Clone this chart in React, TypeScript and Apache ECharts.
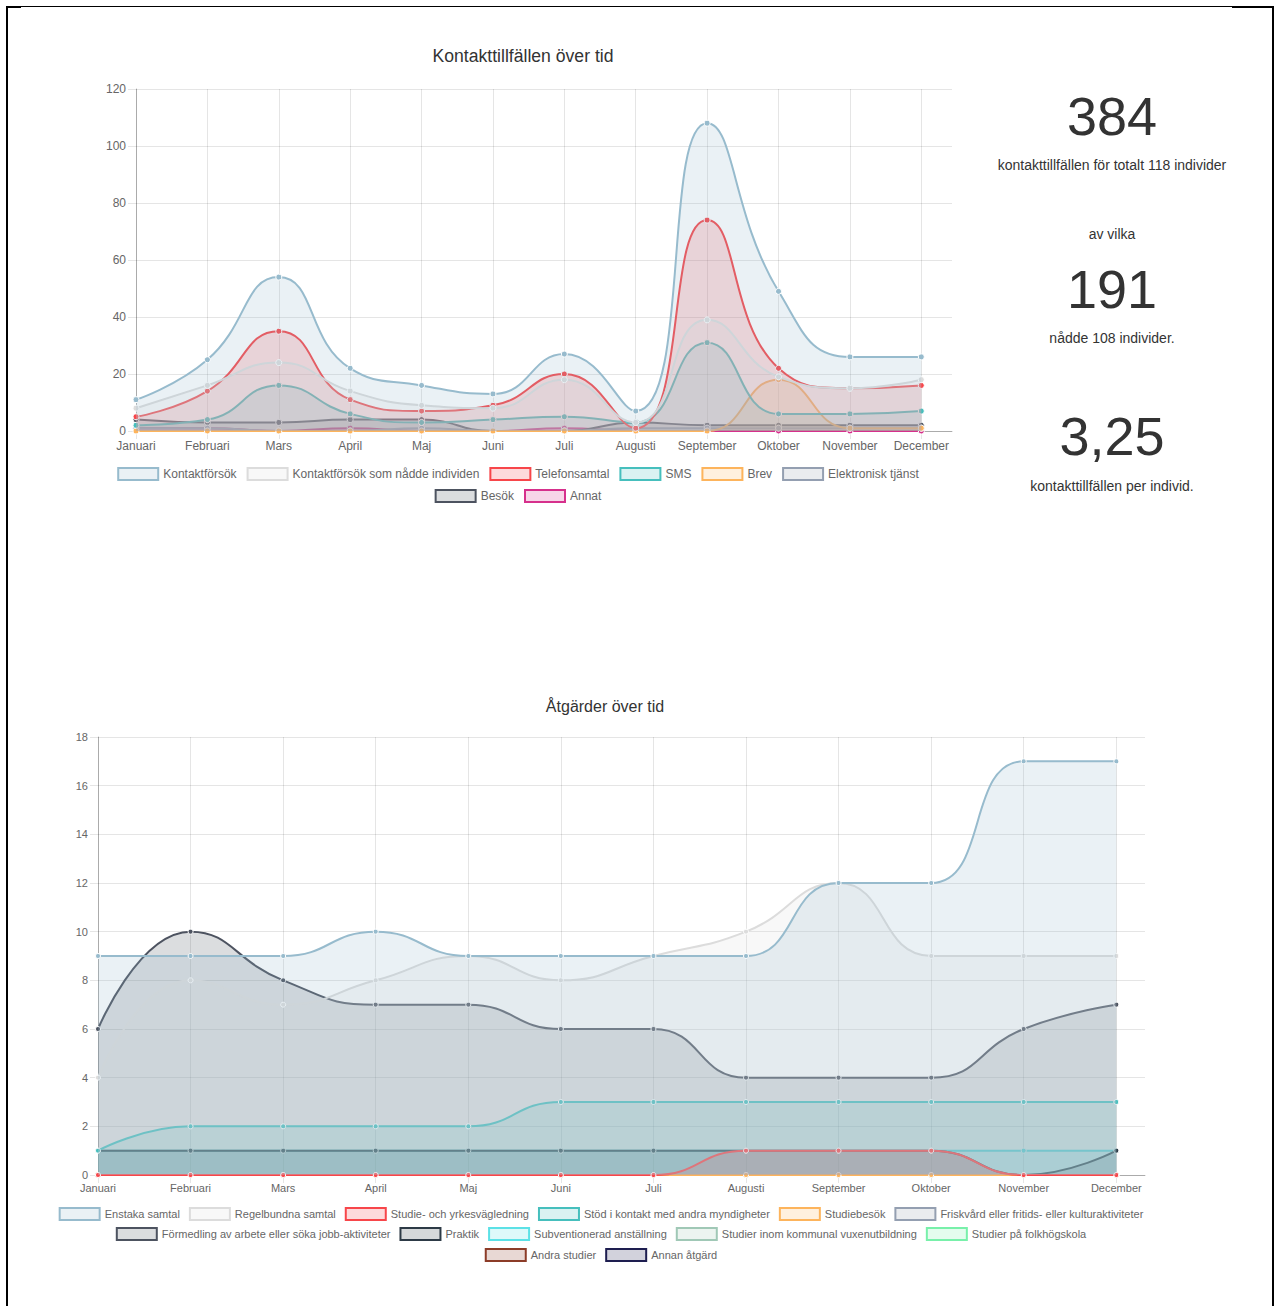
import React, { useEffect, useRef } from 'react';
import * as echarts from 'echarts';

const FONT = "'Liberation Sans', Arial, Helvetica, sans-serif";

const months = ['Januari', 'Februari', 'Mars', 'April', 'Maj', 'Juni', 'Juli', 'Augusti', 'September', 'Oktober', 'November', 'December'];

// ---- Top chart: Kontakttillfällen över tid ----
const kontaktforsok = [11, 25, 54, 22, 16, 13, 27, 7, 108, 49, 26, 26];
const naddeIndividen = [8, 16, 24, 14, 9, 8, 18, 3, 39, 19, 15, 18];
const telefonsamtal = [5, 14, 35, 11, 7, 9, 20, 1, 74, 22, 15, 16];
const sms = [2, 4, 16, 6, 3, 4, 5, 3, 31, 6, 6, 7];
const brev = [0, 0, 0, 0, 0, 0, 0, 0, 0, 18, 1, 1];
const elektroniskTjanst = [1, 1, 0, 0, 1, 0, 0, 1, 1, 1, 1, 1];
const besok = [4, 3, 3, 4, 4, 0, 0, 3, 2, 2, 2, 2];
const annat = [1, 1, 0, 1, 0, 0, 1, 0, 0, 0, 0, 0];

// ---- Bottom chart: Åtgärder över tid ----
const enstakaSamtal = [9, 9, 9, 10, 9, 9, 9, 9, 12, 12, 17, 17];
const regelbundnaSamtal = [4, 8, 7, 8, 9, 8, 9, 10, 12, 9, 9, 9];
const studieYrke = [0, 0, 0, 0, 0, 0, 0, 1, 1, 1, 0, 0];
const stodMyndigheter = [1, 2, 2, 2, 2, 3, 3, 3, 3, 3, 3, 3];
const studiebesok = [0, 0, 0, 0, 0, 0, 0, 0, 0, 0, 0, 0];
const friskvard = [0, 0, 0, 0, 0, 0, 0, 0, 0, 0, 0, 0];
const formedling = [6, 10, 8, 7, 7, 6, 6, 4, 4, 4, 6, 7];
const praktik = [1, 1, 1, 1, 1, 1, 1, 1, 1, 1, 0, 1];
const subventionerad = [1, 1, 1, 1, 1, 1, 1, 1, 1, 1, 1, 1];
const kommunalVux = [0, 0, 0, 0, 0, 0, 0, 0, 0, 0, 0, 0];
const folkhogskola = [0, 0, 0, 0, 0, 0, 0, 0, 0, 0, 0, 0];
const andraStudier = [0, 0, 0, 0, 0, 0, 0, 0, 0, 0, 0, 0];
const annanAtgard = [0, 0, 0, 0, 0, 0, 0, 0, 0, 0, 0, 0];

type Ser = { name: string; data: number[]; rgb: number[] };

const topSeries: Ser[] = [
  { name: 'Kontaktförsök', data: kontaktforsok, rgb: [151, 187, 205] },
  { name: 'Kontaktförsök som nådde individen', data: naddeIndividen, rgb: [220, 220, 220] },
  { name: 'Telefonsamtal', data: telefonsamtal, rgb: [247, 70, 74] },
  { name: 'SMS', data: sms, rgb: [70, 191, 189] },
  { name: 'Brev', data: brev, rgb: [253, 180, 92] },
  { name: 'Elektronisk tjänst', data: elektroniskTjanst, rgb: [148, 159, 177] },
  { name: 'Besök', data: besok, rgb: [77, 83, 96] },
  { name: 'Annat', data: annat, rgb: [214, 48, 140] },
];

const bottomSeries: Ser[] = [
  { name: 'Enstaka samtal', data: enstakaSamtal, rgb: [151, 187, 205] },
  { name: 'Regelbundna samtal', data: regelbundnaSamtal, rgb: [220, 220, 220] },
  { name: 'Studie- och yrkesvägledning', data: studieYrke, rgb: [247, 70, 74] },
  { name: 'Stöd i kontakt med andra myndigheter', data: stodMyndigheter, rgb: [70, 191, 189] },
  { name: 'Studiebesök', data: studiebesok, rgb: [253, 180, 92] },
  { name: 'Friskvård eller fritids- eller kulturaktiviteter', data: friskvard, rgb: [148, 159, 177] },
  { name: 'Förmedling av arbete eller söka jobb-aktiviteter', data: formedling, rgb: [77, 83, 96] },
  { name: 'Praktik', data: praktik, rgb: [45, 58, 70] },
  { name: 'Subventionerad anställning', data: subventionerad, rgb: [92, 225, 230] },
  { name: 'Studier inom kommunal vuxenutbildning', data: kommunalVux, rgb: [160, 200, 182] },
  { name: 'Studier på folkhögskola', data: folkhogskola, rgb: [120, 240, 170] },
  { name: 'Andra studier', data: andraStudier, rgb: [140, 60, 40] },
  { name: 'Annan åtgärd', data: annanAtgard, rgb: [30, 30, 80] },
];

const rgba = (c: number[], a: number) => `rgba(${c[0]},${c[1]},${c[2]},${a})`;

function buildSeries(list: Ser[], symbolSize: number) {
  return list.map((s, i) => ({
    type: 'line',
    name: s.name,
    smooth: 0.5,
    data: s.data.map((v, k) => [k, v]),
    z: 2 + list.length - i,
    symbol: 'circle',
    symbolSize,
    showSymbol: true,
    lineStyle: { color: rgba(s.rgb, 1), width: 2 },
    itemStyle: { color: rgba(s.rgb, 1), borderColor: '#fff', borderWidth: 1 },
    areaStyle: { color: rgba(s.rgb, 0.2), opacity: 1, origin: 'start' },
    emphasis: { disabled: true },
  }));
}

function buildLegend(list: Ser[], names: string[], top: number, fontSize: number, gap: number) {
  return {
    top,
    left: 'center',
    orient: 'horizontal',
    icon: 'rect',
    itemWidth: 40,
    itemHeight: 12,
    itemGap: gap,
    selectedMode: false,
    textStyle: { color: '#666', fontSize, fontFamily: FONT },
    data: names.map((nm) => {
      const s = list.find((x) => x.name === nm)!;
      return { name: nm, itemStyle: { color: rgba(s.rgb, 0.2), borderColor: rgba(s.rgb, 1), borderWidth: 2 } };
    }),
  };
}

function axes(maxX: number, maxY: number, intY: number, fontSize: number, xMargin: number) {
  return {
    xAxis: {
      type: 'value',
      min: 0,
      max: maxX,
      interval: 1,
      axisLine: { show: true, onZero: true, lineStyle: { color: 'rgba(0,0,0,0.25)' } },
      axisTick: { show: true, length: 8, lineStyle: { color: 'rgba(0,0,0,0.1)' } },
      axisLabel: {
        margin: xMargin,
        color: '#666',
        fontSize,
        fontFamily: FONT,
        showMaxLabel: false,
        formatter: (v: number) => (Number.isInteger(v) && months[v] ? months[v] : ''),
      },
      splitLine: { show: true, showMaxLine: false, lineStyle: { color: 'rgba(0,0,0,0.1)' } },
    },
    yAxis: {
      type: 'value',
      min: 0,
      max: maxY,
      interval: intY,
      axisLine: { show: true, lineStyle: { color: 'rgba(0,0,0,0.25)' } },
      axisTick: { show: true, length: 8, lineStyle: { color: 'rgba(0,0,0,0.1)' } },
      axisLabel: { margin: 10, color: '#666', fontSize, fontFamily: FONT },
      splitLine: { show: true, lineStyle: { color: 'rgba(0,0,0,0.1)' } },
    },
  };
}

function useChart(build: () => any) {
  const ref = useRef<HTMLDivElement>(null);
  useEffect(() => {
    if (!ref.current) return;
    const chart = echarts.init(ref.current, undefined, { renderer: 'svg' });
    chart.setOption(build());
    return () => chart.dispose();
  }, []);
  return ref;
}

export default function App() {
  const topRef = useChart(() => ({
    animation: false,
    grid: { left: 136, top: 89, width: 816, height: 342 },
    ...axes(11.43, 120, 20, 12, 9),
    graphic: [
      {
        type: 'text',
        x: 523,
        y: 56,
        style: { text: 'Kontakttillfällen över tid', fill: '#333', fontSize: 17.6, fontFamily: FONT, align: 'center', verticalAlign: 'middle' },
      },
    ],
    legend: [
      buildLegend(topSeries, topSeries.slice(0, 6).map((s) => s.name), 462, 12, 10),
      buildLegend(topSeries, topSeries.slice(6).map((s) => s.name), 484, 12, 10),
    ],
    series: buildSeries(topSeries, 6),
  }));

  const bottomRef = useChart(() => ({
    animation: false,
    grid: { left: 98, top: 77, width: 1047, height: 438 },
    ...axes(11.31, 18, 2, 11, 7),
    graphic: [
      {
        type: 'text',
        x: 605,
        y: 46,
        style: { text: 'Åtgärder över tid', fill: '#333', fontSize: 16, fontFamily: FONT, align: 'center', verticalAlign: 'middle' },
      },
    ],
    legend: [
      buildLegend(bottomSeries, bottomSeries.slice(0, 6).map((s) => s.name), 542, 11, 9),
      buildLegend(bottomSeries, bottomSeries.slice(6, 11).map((s) => s.name), 562, 11, 9),
      buildLegend(bottomSeries, bottomSeries.slice(11).map((s) => s.name), 583, 11, 9),
    ],
    series: buildSeries(bottomSeries, 5),
  }));

  const statRef = useChart(() => {
    const cx = 132;
    const t = (text: string, y: number, size: number) => ({
      type: 'text',
      x: cx,
      y,
      style: { text, fill: '#333', fontSize: size, fontFamily: FONT, align: 'center', verticalAlign: 'middle' },
    });
    return {
      animation: false,
      graphic: [
        t('384', 56, 54),
        t('kontakttillfällen för totalt 118 individer', 105, 14),
        t('av vilka', 174, 14),
        t('191', 229, 54),
        t('nådde 108 individer.', 278, 14),
        t('3,25', 376, 54),
        t('kontakttillfällen per individ.', 426, 14),
      ],
    };
  });

  const line = (s: React.CSSProperties) => <div style={{ position: 'absolute', background: '#000', ...s }} />;

  return (
    <div style={{ position: 'absolute', left: 0, top: 0, width: 1274, height: 1306, background: '#fff', overflow: 'hidden' }}>
      {line({ left: 6, top: 6, width: 1268, height: 1 })}
      {line({ left: 6, top: 6, width: 15, height: 2 })}
      {line({ left: 1232, top: 6, width: 42, height: 2 })}
      {line({ left: 6, top: 6, width: 2, height: 1300 })}
      {line({ left: 1272, top: 6, width: 2, height: 1300 })}
      <div ref={bottomRef} style={{ position: 'absolute', left: 0, top: 660, width: 1202, height: 646 }} />
      <div ref={topRef} style={{ position: 'absolute', left: 0, top: 0, width: 1036, height: 520 }} />
      <div ref={statRef} style={{ position: 'absolute', left: 980, top: 60, width: 294, height: 460 }} />
    </div>
  );
}
